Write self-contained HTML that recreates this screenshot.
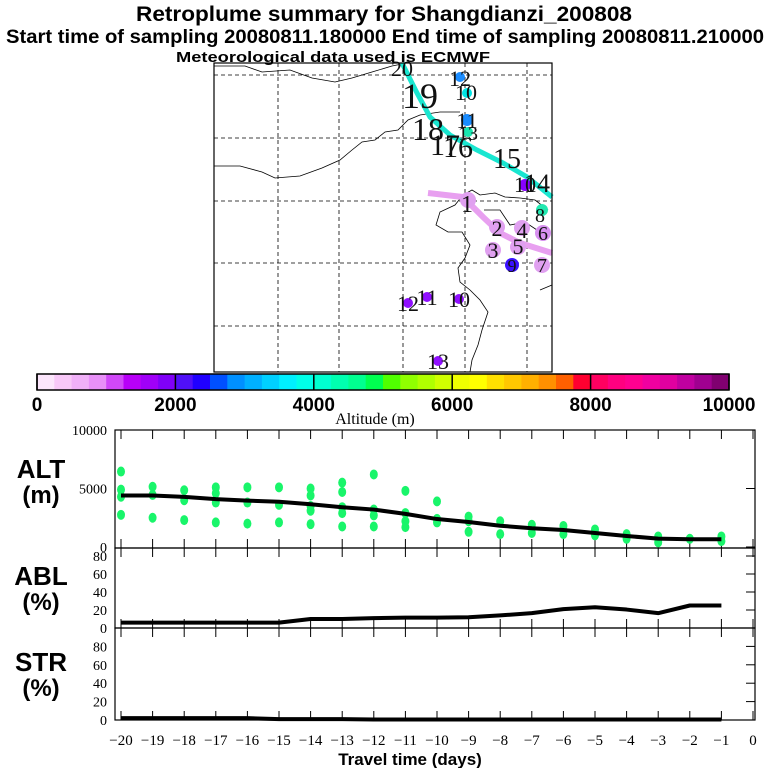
<!DOCTYPE html>
<html><head><meta charset="utf-8"><style>
body{margin:0;background:#fff}
svg{display:block}
.t{font-family:"Liberation Sans",sans-serif;font-weight:bold}
.s{font-family:"Liberation Serif",serif}
</style></head><body>
<svg id="c" width="768" height="768" viewBox="0 0 768 768">
<text class="t" x="384" y="21" font-size="21" text-anchor="middle" textLength="496" lengthAdjust="spacingAndGlyphs">Retroplume summary for Shangdianzi_200808</text>
<text class="t" x="385" y="43" font-size="19" text-anchor="middle" textLength="758" lengthAdjust="spacingAndGlyphs">Start time of sampling 20080811.180000     End time of sampling 20080811.210000</text>
<text class="t" x="333" y="62" font-size="15" text-anchor="middle" textLength="314" lengthAdjust="spacingAndGlyphs">Meteorological data used is ECMWF</text>
<g id="map"></g>
<g id="cbar"></g>
<g id="panels"></g>
</svg>
<script>
const NS='http://www.w3.org/2000/svg';
function mk(p,tag,at,txt){const e=document.createElementNS(NS,tag);for(const k in at)e.setAttribute(k,at[k]);if(txt!==undefined)e.textContent=txt;p.appendChild(e);return e;}
const days=[-20,-19,-18,-17,-16,-15,-14,-13,-12,-11,-10,-9,-8,-7,-6,-5,-4,-3,-2,-1];
const altMean=[4400,4400,4280,4090,3960,3870,3650,3400,3200,2830,2390,2140,1820,1600,1450,1200,940,720,660,660];
const altDots=[[6450,4900,4300,2750],[5150,4450,2500],[4850,4000,2300],[5100,4600,3800,2100],[5100,3800,2000],[5100,3600,2100],[5000,4400,3500,3100,1950],[5500,4700,3400,2900,1750],[6200,3200,2700,1750],[4800,2900,2200,1700],[3900,2400,2100],[2600,2200,1300],[2200,1100],[1900,1200],[1800,1100],[1500,1000],[1100,700],[900,400],[700],[900,500]];
const ablVals=[6,6,6,6,6,6,10,10,11,11.5,11.5,12,14,16.5,21,23,20.5,16.5,25,25];
const strVals=[2,2,2,2,2,1,1,1,0.5,0.5,0.5,0.5,0.5,0.5,0.5,0.5,0.5,0.5,0.5,0.5];
const xTicks=[-20,-19,-18,-17,-16,-15,-14,-13,-12,-11,-10,-9,-8,-7,-6,-5,-4,-3,-2,-1,0];
const altTicks=[0,5000,10000];
const pctTicks=[0,20,40,60,80];
const cbColors=['#fce6fc','#f8c8f8','#f0b0f8','#e890f8','#d048f8','#b800f8','#a000f8','#8000f8','#5010f8','#2000ff','#0050ff','#0090ff','#00b0ff','#00d0ff','#00f0ff','#00ffe8','#00ffd0','#00ffb0','#00ff90','#00ff50','#50ff00','#90ff00','#b0ff00','#d0ff00','#f0ff00','#ffff00','#ffe000','#ffc800','#ffb000','#ff9000','#ff6000','#ff0030','#ff0060','#ff0080','#ff0090','#f000a0','#e000a0','#c000a0','#a00090','#800070'];
const cbTicks=[0,2000,4000,6000,8000,10000];

const X=d=>121+(d+20)*31.6;
const L=115,R=755;
const P=document.getElementById('panels');
const panels=[
 {name:'alt',top:430,bot:548,y:v=>547-v*0.0117},
 {name:'abl',top:548,bot:628,y:v=>628-v*0.9},
 {name:'str',top:628,bot:720,y:v=>720-v*0.92}];
panels.forEach(p=>{
 const r=mk(P,'rect',{x:L,y:p.top,width:R-L,height:p.bot-p.top,fill:'none',stroke:'#000','stroke-width':1.2});
 
 
 xTicks.forEach(d=>{
  mk(P,'line',{x1:X(d),x2:X(d),y1:p.top,y2:p.top+9,stroke:'#000'});
  mk(P,'line',{x1:X(d),x2:X(d),y1:p.bot,y2:p.bot-9,stroke:'#000'});
 });
});
const pa=panels[0];
altTicks.forEach(v=>{
 mk(P,'line',{x1:R,x2:R-9,y1:pa.y(v),y2:pa.y(v),stroke:'#000'});
 const t=mk(P,'text',{x:107,y:pa.y(v)+5,'font-size':14,'text-anchor':'end',class:'s'},v);
 
 
});
altDots.forEach((arr,i)=>arr.forEach(v=>{
 const c=mk(P,'ellipse',{cx:X(days[i]),cy:pa.y(v),rx:4,ry:5,fill:'#19f56a'});
 
 
}));
function line(p,vals,name){
 const pts=vals.map((v,i)=>X(days[i])+','+p.y(v)).join(' ');
 const e=mk(P,'polyline',{points:pts,fill:'none',stroke:'#000','stroke-width':4,'stroke-linejoin':'round'});
 
 
}
line(pa,altMean,'alt-mean-line');
[panels[1],panels[2]].forEach(p=>{
 pctTicks.forEach(v=>{
  mk(P,'line',{x1:R,x2:R-9,y1:p.y(v),y2:p.y(v),stroke:'#000'});
  const t=mk(P,'text',{x:107,y:p.y(v)+5,'font-size':14,'text-anchor':'end',class:'s'},v);
  
  
 });
});
line(panels[1],ablVals,'abl-line');
line(panels[2],strVals,'str-line');
xTicks.forEach(d=>{
 const t=mk(P,'text',{x:X(d),y:745,'font-size':15,'text-anchor':'middle',class:'s'},d===0?'0':'\u2212'+(-d));
 
 
});
[['ALT','(m)',478,503],['ABL','(%)',585,610],['STR','(%)',671,696]].forEach(a=>{
 const t1=mk(P,'text',{x:41,y:a[2],'font-size':26,'text-anchor':'middle',class:'t'},a[0]);
 
 
 const t2=mk(P,'text',{x:41,y:a[3],'font-size':24,'text-anchor':'middle',class:'t'},a[1]);
 
 
});
const xt=mk(P,'text',{x:410,y:765,'font-size':17,'text-anchor':'middle',class:'t'},'Travel time (days)');



const C=document.getElementById('cbar');
const cx0=37,cx1=729,sw=(cx1-cx0)/cbColors.length;
cbColors.forEach((col,i)=>{
 const r=mk(C,'rect',{x:cx0+i*sw,y:374,width:sw+0.5,height:16,fill:col});
 
 
});
mk(C,'rect',{x:cx0,y:374,width:cx1-cx0,height:16,fill:'none',stroke:'#000','stroke-width':1.5});
cbTicks.forEach(v=>{
 const x=cx0+v/10000*(cx1-cx0);
 mk(C,'line',{x1:x,x2:x,y1:374,y2:390,stroke:'#000','stroke-width':1.5});
 const t=mk(C,'text',{x:x,y:411,'font-size':19,'text-anchor':'middle',class:'t'},v);
 
 
});
const at=mk(C,'text',{x:375,y:424,'font-size':16,'text-anchor':'middle',class:'s'},'Altitude (m)');



const M=document.getElementById('map');
[278,339,403,465,527].forEach(x=>mk(M,'line',{x1:x,x2:x,y1:63,y2:372,stroke:'#000','stroke-dasharray':'4,3','stroke-width':0.8}));
[75,138,201,263,326].forEach(y=>mk(M,'line',{x1:214,x2:552,y1:y,y2:y,stroke:'#000','stroke-dasharray':'4,3','stroke-width':0.8}));
const coast=['M214,66 L245,66 L262,72 L290,70 L312,78 L335,82 L352,78 L372,72 L392,66 L402,64',
'M214,166 L240,166 L262,172 L275,178 L300,176 L322,168 L340,160 L352,150 L362,142 L375,140 L385,132 L398,130 L408,120 L420,115 L440,112 L460,112',
'M548,210 L535,200 L520,198 L505,197 L495,193 L480,195 L472,190 L463,195 L455,205 L440,212 L436,225 L448,232 L462,232 L470,245 L465,258 L458,268 L460,282 L470,290 L480,300 L488,312 L482,330 L478,345 L472,360 L470,372',
'M484,210 L500,210 L510,225 L525,222 L540,232',
'M540,290 L552,285'];
coast.forEach(d=>{
 const e=mk(M,'path',{d:d,fill:'none',stroke:'#000','stroke-width':0.8});
 
 
});
const cy=mk(M,'polyline',{points:'402,63 417,93 430,117 450,135 477,150 503,163 527,177 552,197',fill:'none',stroke:'#19e6d0','stroke-width':5});


const pk=mk(M,'polyline',{points:'428,193 463,197 483,217 500,233 520,243 552,253',fill:'none',stroke:'#e8a0f0','stroke-width':6});


[[468,200,8,'#e0a0f0'],[497,227,8,'#e0a0f0'],[493,250,8,'#e0a0f0'],[522,228,8,'#e0a0f0'],[518,247,8,'#e0a0f0'],[543,233,8,'#d890f0'],[542,265,8,'#e0a0f0'],[512,265,7,'#3a10ff'],[460,77,5,'#1a8cff'],[467,93,5,'#00e5e5'],[467,120,6,'#1a8cff'],[468,132,5,'#19e6b0'],[525,185,6,'#8800ff'],[542,210,6,'#22e8b0'],[408,303,5,'#9010ff'],[427,297,5,'#9010ff'],[459,299,5,'#9010ff'],[438,361,5,'#9010ff']].forEach(d=>{
 const c=mk(M,'circle',{cx:d[0],cy:d[1],r:d[2],fill:d[3]});
 
 
});
[['19',420,108,36],['18',428,140,32],['17',445,155,30],['16',458,157,30],['15',507,168,28],['14',537,192,26],['12',460,86,22],['10',466,100,22],['11',467,128,22],['13',468,140,20],['10',525,192,22],['1',467,212,24],['2',497,236,22],['3',493,258,22],['4',522,238,22],['5',518,254,22],['6',543,240,20],['7',542,272,20],['8',540,222,20],['9',512,272,18],['12',408,311,22],['11',427,305,22],['10',459,307,22],['13',438,369,22],['20',402,76,22]].forEach(l=>{
 const t=mk(M,'text',{x:l[1],y:l[2],'font-size':l[3],'text-anchor':'middle',class:'s',fill:'#111'},l[0]);
 
 
});
mk(M,'rect',{x:214,y:63,width:338,height:309,fill:'none',stroke:'#000','stroke-width':1.2});
</script>
</body></html>
